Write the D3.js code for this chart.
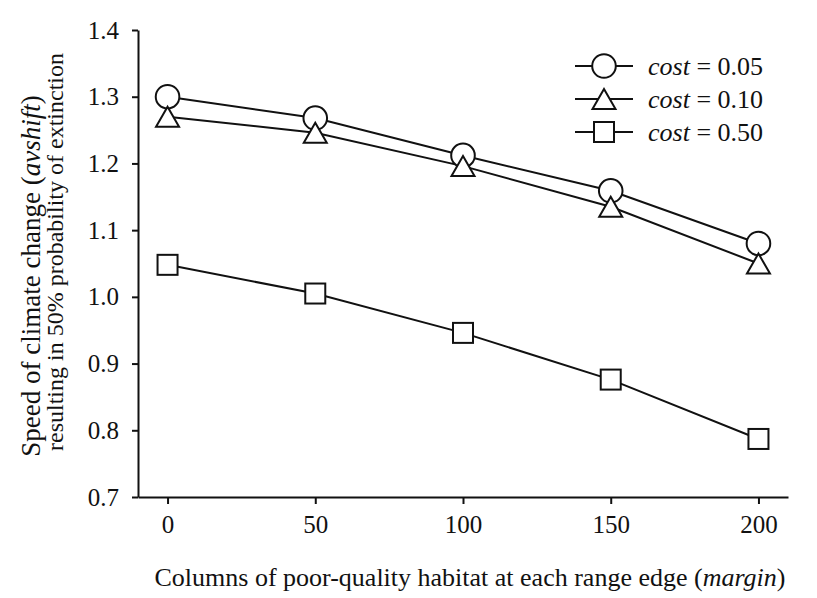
<!DOCTYPE html>
<html>
<head>
<meta charset="utf-8">
<script src="https://cdn.jsdelivr.net/npm/d3@7"></script>
<style>
  body { margin: 0; background: #fff; }
  svg text { font-family: "Liberation Serif", "Times New Roman", serif; fill: #111; }
</style>
</head>
<body>
<div id="chart"></div>
<script>
// margin (columns of poor-quality habitat)
var margins = [0, 50, 100, 150, 200];
var cost005 = [1.300, 1.268, 1.212, 1.159, 1.080];
var cost010 = [1.270, 1.246, 1.196, 1.135, 1.050];
var cost050 = [1.048, 1.005, 0.946, 0.876, 0.787];
var costLabels = ["0.05", "0.10", "0.50"];
var yTicks = [0.7, 0.8, 0.9, 1.0, 1.1, 1.2, 1.3, 1.4];
var xTicks = [0, 50, 100, 150, 200];

var W = 817, H = 598;
var ink = "#111";

var svg = d3.select("#chart").append("svg")
    .attr("width", W)
    .attr("height", H);

var x = d3.scaleLinear().domain([-10, 210]).range([138, 788]);
var y = d3.scaleLinear().domain([0.7, 1.4]).range([497, 30]);

// axes
var yAxis = svg.append("g")
    .attr("transform", "translate(" + x.range()[0] + ",0)")
    .call(d3.axisLeft(y).tickValues(yTicks).tickFormat(d3.format(".1f"))
        .tickSize(6).tickSizeOuter(0).tickPadding(13));

var xAxis = svg.append("g")
    .attr("transform", "translate(0," + y.range()[0] + ")")
    .call(d3.axisBottom(x).tickValues(xTicks).tickFormat(d3.format("d"))
        .tickSize(7).tickSizeOuter(0).tickPadding(11));

[yAxis, xAxis].forEach(function (g) {
    g.attr("font-size", null).attr("font-family", null);
    g.select(".domain").attr("stroke", ink).attr("stroke-width", 2);
    g.selectAll(".tick line").attr("stroke", ink).attr("stroke-width", 2);
    g.selectAll(".tick text")
        .style("font-size", "25px")
        .attr("fill", ink);
});

// axis titles
svg.append("text")
    .attr("x", 470)
    .attr("y", 586)
    .attr("text-anchor", "middle")
    .style("font-size", "26px")
    .html("Columns of poor-quality habitat at each range edge (<tspan font-style='italic'>margin</tspan>)");

svg.append("text")
    .attr("transform", "translate(40,276) rotate(-90)")
    .attr("text-anchor", "middle")
    .style("font-size", "27px")
    .html("Speed of climate change (<tspan font-style='italic'>avshift</tspan>)");

svg.append("text")
    .attr("transform", "translate(63,252) rotate(-90)")
    .attr("text-anchor", "middle")
    .style("font-size", "24px")
    .text("resulting in 50% probability of extinction");

// markers
var trianglePath = "M0,-10L11.5,10L-11.5,10Z";
function drawMarker(g, type) {
    if (type === "circle") {
        g.append("circle").attr("r", 11.8);
    } else if (type === "triangle") {
        g.append("path").attr("d", trianglePath);
    } else {
        g.append("rect").attr("x", -10).attr("y", -10).attr("width", 20).attr("height", 20);
    }
    g.selectAll("circle,path,rect")
        .attr("fill", "#fff")
        .attr("stroke", ink)
        .attr("stroke-width", 2);
}

var series = [
    { values: cost005, marker: "circle" },
    { values: cost010, marker: "triangle" },
    { values: cost050, marker: "square" }
];

var line = d3.line()
    .x(function (d, i) { return x(margins[i]); })
    .y(function (d) { return y(d); });

svg.append("g").selectAll("path")
    .data(series)
    .enter()
    .append("path")
    .attr("d", function (s) { return line(s.values); })
    .attr("fill", "none")
    .attr("stroke", ink)
    .attr("stroke-width", 2);

series.forEach(function (s) {
    svg.append("g").selectAll("g")
        .data(s.values)
        .enter()
        .append("g")
        .attr("transform", function (d, i) {
            return "translate(" + x(margins[i]) + "," + y(d) + ")";
        })
        .each(function () { drawMarker(d3.select(this), s.marker); });
});

// legend
var legend = svg.append("g").attr("transform", "translate(575,66)");
var rowGap = 33;
series.forEach(function (s, i) {
    var row = legend.append("g").attr("transform", "translate(0," + (i * rowGap) + ")");
    row.append("line")
        .attr("x1", 0).attr("x2", 58)
        .attr("stroke", ink).attr("stroke-width", 2);
    var m = row.append("g").attr("transform", "translate(29,0)");
    drawMarker(m, s.marker);
    row.append("text")
        .attr("x", 73)
        .attr("dy", "0.34em")
        .style("font-size", "26px")
        .html("<tspan font-style='italic'>cost</tspan> = " + costLabels[i]);
});
</script>
</body>
</html>
